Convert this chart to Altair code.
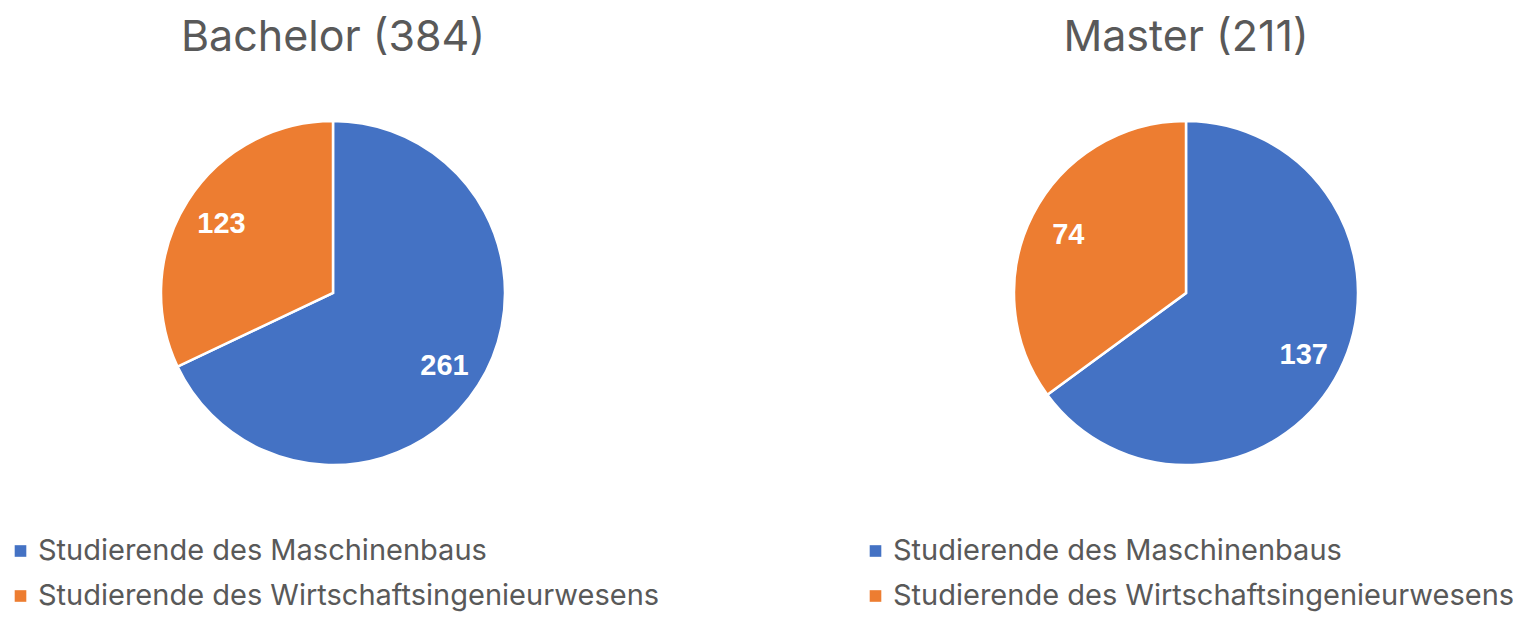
import altair as alt
import pandas as pd

categories = ["Studierende des Maschinenbaus", "Studierende des Wirtschaftsingenieurwesens"]
colors = ["#4472C4", "#ED7D31"]
titles = ["Bachelor (384)", "Master (211)"]
bachelor_values = [261, 123]
master_values = [137, 74]

panels = [
    (titles[0], bachelor_values, 325, 285, 12.5),
    (titles[1], master_values, 1178, 285, 867.5),
]
legend_baselines = [552, 597]

color_scale = alt.Scale(domain=categories, range=colors)
layers = []
for title, vals, cx, cy, lx in panels:
    df = pd.DataFrame({"cat": categories, "value": vals, "order": [0, 1]})
    base = alt.Chart(df).encode(
        theta=alt.Theta("value:Q", stack=True),
        order=alt.Order("order:Q"),
        x=alt.value(cx),
        y=alt.value(cy),
    )
    arc = base.mark_arc(radius=172, stroke="white", strokeWidth=2.5).encode(
        color=alt.Color("cat:N", scale=color_scale, legend=None)
    )
    txt = base.mark_text(radius=132, fontSize=29, fontWeight="bold", color="white",
                         font="Liberation Sans", baseline="middle", align="center", dy=2).encode(
        text="value:Q"
    )
    ttl = alt.Chart(pd.DataFrame({"t": [title]})).mark_text(
        fontSize=43, font="Inter", color="#595959", baseline="alphabetic", align="center"
    ).encode(text="t:N", x=alt.value(cx), y=alt.value(42.5))
    layers += [alt.layer(arc, txt).resolve_scale(theta="independent"), ttl]
    for i, c in enumerate(categories):
        ldf = pd.DataFrame({"cat": [c]})
        bl = legend_baselines[i]
        sq = alt.Chart(ldf).mark_square(size=135, opacity=1).encode(
            color=alt.Color("cat:N", scale=color_scale, legend=None),
            x=alt.value(lx), y=alt.value(bl - 9),
        )
        lt = alt.Chart(ldf).mark_text(
            fontSize=29, font="Inter", color="#595959", align="left", baseline="alphabetic"
        ).encode(text="cat:N", x=alt.value(lx + 17.5), y=alt.value(bl))
        layers += [sq, lt]

chart = alt.layer(*layers).resolve_scale(theta="independent").properties(
    width=1505, height=605, padding=0, autosize=alt.AutoSizeParams(type="none")
).configure_view(stroke=None)

chart.save("out.html", embed_options={"renderer": "svg", "actions": False})
